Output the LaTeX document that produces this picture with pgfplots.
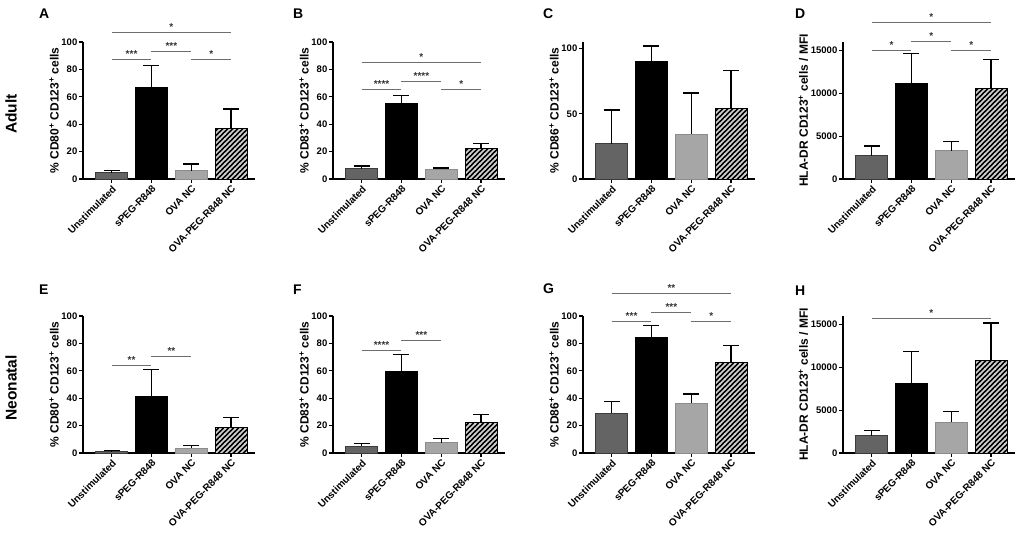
\documentclass[border=0pt]{standalone}
\usepackage{pgfplots}
\pgfplotsset{compat=1.18}
\usepackage{fontspec}
\setmainfont{Liberation Sans}
\usetikzlibrary{patterns}

\definecolor{cunst}{RGB}{100,100,100}
\definecolor{cunstd}{RGB}{60,60,60}
\definecolor{covanc}{RGB}{166,166,166}
\definecolor{covancd}{RGB}{140,140,140}
\definecolor{chatch}{RGB}{210,210,210}
\definecolor{csig}{RGB}{110,110,110}

\pgfdeclarepatternformonly{widene}{\pgfqpoint{-1bp}{-1bp}}{\pgfqpoint{6bp}{6bp}}{\pgfqpoint{5bp}{5bp}}{%
  \pgfsetlinewidth{1.7bp}%
  \pgfpathmoveto{\pgfqpoint{-0.6bp}{-0.6bp}}%
  \pgfpathlineto{\pgfqpoint{5.6bp}{5.6bp}}%
  \pgfusepath{stroke}}

\newcommand{\lblfont}{\bfseries\fontsize{9.5bp}{11bp}\selectfont}
\newcommand{\xlblfont}{\bfseries\fontsize{10bp}{11bp}\selectfont}
\newcommand{\ylblfont}{\bfseries\fontsize{12bp}{13bp}\selectfont}

\pgfplotsset{
  panel/.style={
    scale only axis, width=172bp, height=137bp,
    xmin=-0.72, xmax=3.6, ymin=0,
    axis x line*=bottom, axis y line*=left,
    axis line style={line width=1.3bp, black, -},
    tick align=outside, major tick length=4bp,
    tick style={line width=1.3bp, black},
    xtick={0,1,2,3},
    xticklabels={Unstimulated, sPEG-R848, OVA NC, OVA-PEG-R848 NC},
    xticklabel style={rotate=45, anchor=north east, inner sep=1bp, font=\xlblfont},
    yticklabel style={inner sep=1.5bp, font=\lblfont},
    ylabel style={font=\ylblfont, inner sep=1bp},
    /pgf/number format/assume math mode=true,
    /pgf/number format/1000 sep={},
    scaled y ticks=false,
    clip=false,
    anchor=south west,
  },
  bb/.style={ybar, bar width=32bp, bar shift=0pt, line width=0.9bp},
  unst/.style={bb, fill=cunst, draw=cunstd},
  speg/.style={bb, fill=black, draw=black},
  ovanc/.style={bb, fill=covanc, draw=covancd},
  ovapeg/.style={bb, fill=black, draw=black, postaction={pattern=widene, pattern color=chatch}},
  eb/.style={error bars/.cd, y dir=plus, y explicit,
    error bar style={line width=1.4bp, black, solid},
    error mark options={line width=1.4bp, black, mark size=8bp, rotate=90}},
}

\newcommand{\sig}[4]{\draw[csig, line width=0.9bp] (axis cs:#1,#3) -- (axis cs:#2,#3) node[midway, above, inner sep=1.5bp, text=black!80, font=\bfseries\fontsize{10bp}{10bp}\selectfont] {#4};}

\begin{document}
\begin{tikzpicture}
\path[use as bounding box] (0,0) rectangle (1021bp,534bp);

% ---------------- Row labels and panel letters
\node[rotate=90, font=\bfseries\fontsize{15.5bp}{15.5bp}\selectfont] at (11bp,420bp) {Adult};
\node[rotate=90, font=\bfseries\fontsize{15.5bp}{15.5bp}\selectfont] at (11bp,146bp) {Neonatal};
\foreach \L/\x/\y in {A/39/520.5, B/293/520.5, C/543/520.5, D/795/520.5, E/39/244, F/293/244, G/543/245, H/795/243.5}
  \node[anchor=west, inner sep=0pt, font=\bfseries\fontsize{14bp}{14bp}\selectfont] at (\x bp,\y bp) {\L};

% ---------------- A
\begin{axis}[panel, at={(83bp,355bp)}, ymax=100, ytick={0,20,40,60,80,100},
  ylabel={\% CD80\textsuperscript{+} CD123\textsuperscript{+} cells}]
\addplot[unst, eb] coordinates {(0,4.5) +- (0,1.5)};
\addplot[speg, eb] coordinates {(1,67) +- (0,16)};
\addplot[ovanc, eb] coordinates {(2,6) +- (0,5)};
\addplot[ovapeg, eb] coordinates {(3,37) +- (0,14)};
\sig{0}{3}{107}{*}
\sig{1}{2}{93.4}{***}
\sig{0}{1}{86.9}{***}
\sig{2}{3}{86.9}{*}
\end{axis}

% ---------------- B
\begin{axis}[panel, at={(333bp,355bp)}, ymax=100, ytick={0,20,40,60,80,100},
  ylabel={\% CD83\textsuperscript{+} CD123\textsuperscript{+} cells}]
\addplot[unst, eb] coordinates {(0,7.5) +- (0,2)};
\addplot[speg, eb] coordinates {(1,55) +- (0,6)};
\addplot[ovanc, eb] coordinates {(2,7) +- (0,1)};
\addplot[ovapeg, eb] coordinates {(3,22.5) +- (0,3.5)};
\sig{0}{3}{85}{*}
\sig{1}{2}{71}{****}
\sig{0}{1}{65}{****}
\sig{2}{3}{65}{*}
\end{axis}

% ---------------- C
\begin{axis}[panel, at={(583bp,355bp)}, ymax=105, ytick={0,50,100},
  ylabel={\% CD86\textsuperscript{+} CD123\textsuperscript{+} cells}]
\addplot[unst, eb] coordinates {(0,27) +- (0,26)};
\addplot[speg, eb] coordinates {(1,90) +- (0,12)};
\addplot[ovanc, eb] coordinates {(2,34.5) +- (0,31.5)};
\addplot[ovapeg, eb] coordinates {(3,54) +- (0,29)};
\end{axis}

% ---------------- D
\begin{axis}[panel, at={(843bp,355bp)}, ymax=16000, ytick={0,5000,10000,15000},
  ylabel={HLA-DR CD123\textsuperscript{+} cells / MFI}]
\addplot[unst, eb] coordinates {(0,2700) +- (0,1150)};
\addplot[speg, eb] coordinates {(1,11150) +- (0,3500)};
\addplot[ovanc, eb] coordinates {(2,3300) +- (0,1100)};
\addplot[ovapeg, eb] coordinates {(3,10600) +- (0,3350)};
\sig{0}{3}{18290}{*}
\sig{1}{2}{16080}{*}
\sig{0}{1}{15000}{*}
\sig{2}{3}{15000}{*}
\end{axis}

% ---------------- E
\begin{axis}[panel, at={(83bp,81bp)}, ymax=100, ytick={0,20,40,60,80,100},
  ylabel={\% CD80\textsuperscript{+} CD123\textsuperscript{+} cells}]
\addplot[unst, eb] coordinates {(0,1) +- (0,0.8)};
\addplot[speg, eb] coordinates {(1,41.5) +- (0,19.5)};
\addplot[ovanc, eb] coordinates {(2,3.5) +- (0,2)};
\addplot[ovapeg, eb] coordinates {(3,18.5) +- (0,7.5)};
\sig{0}{1}{63.7}{**}
\sig{1}{2}{70.3}{**}
\end{axis}

% ---------------- F
\begin{axis}[panel, at={(333bp,81bp)}, ymax=100, ytick={0,20,40,60,80,100},
  ylabel={\% CD83\textsuperscript{+} CD123\textsuperscript{+} cells}]
\addplot[unst, eb] coordinates {(0,5) +- (0,2)};
\addplot[speg, eb] coordinates {(1,59.5) +- (0,12.5)};
\addplot[ovanc, eb] coordinates {(2,7.5) +- (0,3)};
\addplot[ovapeg, eb] coordinates {(3,22) +- (0,6)};
\sig{0}{1}{75}{****}
\sig{1}{2}{82}{***}
\end{axis}

% ---------------- G
\begin{axis}[panel, at={(583bp,81bp)}, ymax=100, ytick={0,20,40,60,80,100},
  ylabel={\% CD86\textsuperscript{+} CD123\textsuperscript{+} cells}]
\addplot[unst, eb] coordinates {(0,29) +- (0,8.5)};
\addplot[speg, eb] coordinates {(1,84.5) +- (0,8.5)};
\addplot[ovanc, eb] coordinates {(2,36.5) +- (0,6.5)};
\addplot[ovapeg, eb] coordinates {(3,66) +- (0,12.5)};
\sig{0}{3}{116.6}{**}
\sig{1}{2}{102.4}{***}
\sig{0}{1}{95.8}{***}
\sig{2}{3}{95.8}{*}
\end{axis}

% ---------------- H
\begin{axis}[panel, at={(843bp,81bp)}, ymax=16000, ytick={0,5000,10000,15000},
  ylabel={HLA-DR CD123\textsuperscript{+} cells / MFI}]
\addplot[unst, eb] coordinates {(0,2000) +- (0,600)};
\addplot[speg, eb] coordinates {(1,8100) +- (0,3750)};
\addplot[ovanc, eb] coordinates {(2,3600) +- (0,1250)};
\addplot[ovapeg, eb] coordinates {(3,10800) +- (0,4400)};
\sig{0}{3}{15700}{*}
\end{axis}
\end{tikzpicture}
\end{document}
